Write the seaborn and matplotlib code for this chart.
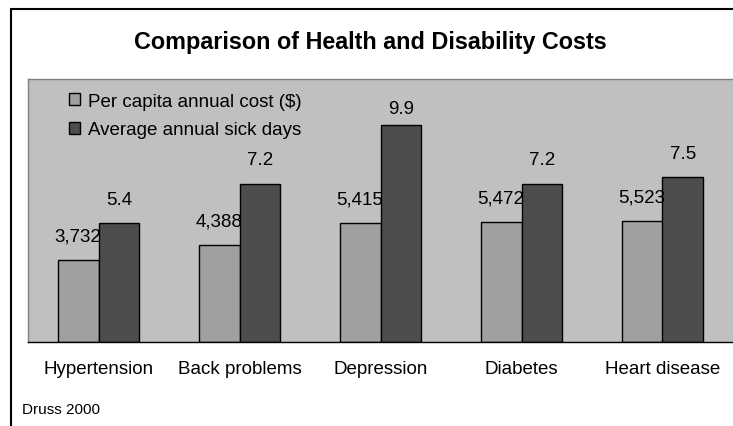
import pandas as pd
import matplotlib.pyplot as plt
import seaborn as sns
from matplotlib.lines import Line2D

# data
conditions = ['Hypertension', 'Back problems', 'Depression', 'Diabetes', 'Heart disease']
cost = [3732, 4388, 5415, 5472, 5523]
sick_days = [5.4, 7.2, 9.9, 7.2, 7.5]
series = ['Per capita annual cost ($)', 'Average annual sick days']

# cost is drawn in thousands so both series share one scale
df = pd.DataFrame({
    'condition': conditions * 2,
    'value': [c / 1000 for c in cost] + sick_days,
    'series': [series[0]] * 5 + [series[1]] * 5,
})

sns.set_style("white")
plt.rcParams['font.family'] = ['Liberation Sans', 'DejaVu Sans']
plt.rcParams['text.color'] = 'black'
plt.rcParams['xtick.color'] = 'black'

fig = plt.figure(figsize=(7.33, 4.27), dpi=100)
ax = fig.add_axes([28 / 733, 1 - 342.7 / 427, 705 / 733, (342.7 - 79.5) / 427])
ax.set_facecolor('#c0c0c0')

sns.barplot(x='condition', y='value', hue='series', data=df, ax=ax,
            palette=['#a0a0a0', '#4d4d4d'], edgecolor='black', linewidth=1,
            width=0.58, gap=0, saturation=1)

ax.set_ylim(0, 12)
ax.set_xlim(-0.5, 4.5)
ax.set_xlabel('')
ax.set_ylabel('')
ax.set_yticks([])

# value labels above the bars, kept below the legend/top area like Excel does
label_sets = [[f'{c:,}' for c in cost], [f'{d:.1f}' for d in sick_days]]
for container, labels in zip(ax.containers, label_sets):
    for bar, text in zip(container, labels):
        x = bar.get_x() + bar.get_width() / 2
        y = min(bar.get_height() + 0.89, 10.43)
        ax.text(x, y, text, ha='center', va='baseline', fontsize=13.5)

# category ticks between groups, labels at centers
ax.set_xticks(range(5))
ax.set_xticklabels(conditions, fontsize=13.5)
ax.set_xticks([i - 0.5 for i in range(6)], minor=True)
ax.tick_params(axis='x', which='major', length=0, pad=13)
ax.tick_params(axis='x', which='minor', length=5, width=1, color='black', direction='out')

for side in ['left', 'top']:
    ax.spines[side].set_color('#808080')
    ax.spines[side].set_linewidth(1)
ax.spines['right'].set_visible(False)
ax.spines['bottom'].set_color('black')
ax.spines['bottom'].set_linewidth(1)

ax.legend(title=None, loc='upper left', bbox_to_anchor=(0.058, 0.945), frameon=False,
          fontsize=13.5, borderpad=0, borderaxespad=0, handlelength=0.6,
          handleheight=0.6, handletextpad=0.4, labelspacing=0.6)

fig.text(370 / 733, 1 - 43 / 427, 'Comparison of Health and Disability Costs',
         ha='center', va='center', fontsize=16.8, fontweight='bold')
fig.text(22 / 733, 1 - 410 / 427, 'Druss 2000', ha='left', va='center', fontsize=11)

# outer chart border
fig.add_artist(Line2D([10.5 / 733, 10.5 / 733], [0, 1 - 10 / 427], color='black', lw=1.5))
fig.add_artist(Line2D([10.5 / 733, 1], [1 - 10 / 427, 1 - 10 / 427], color='black', lw=1.5))

fig.savefig('out.png', dpi=100)
